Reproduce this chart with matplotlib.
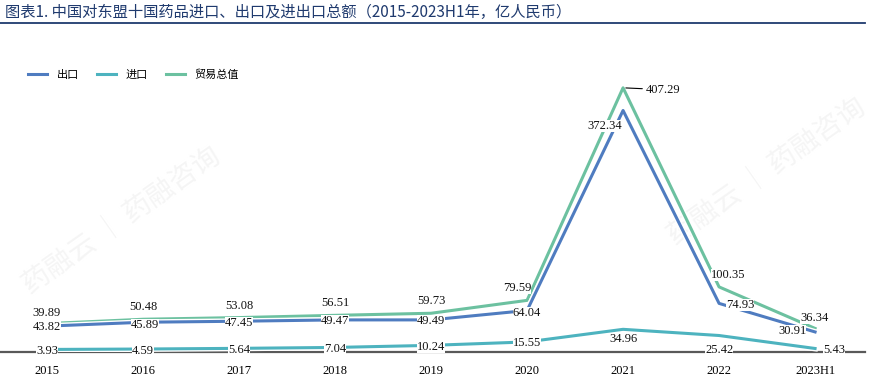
import matplotlib
matplotlib.use("Agg")
import matplotlib.pyplot as plt
import matplotlib.patheffects as pe

# data (亿人民币)
years = ["2015", "2016", "2017", "2018", "2019", "2020", "2021", "2022", "2023H1"]
exports = [39.89, 45.89, 47.45, 49.47, 49.49, 64.04, 372.34, 74.93, 30.91]
imports = [3.93, 4.59, 5.64, 7.04, 10.24, 15.55, 34.96, 25.42, 5.43]
totals = [43.82, 50.48, 53.08, 56.51, 59.73, 79.59, 407.29, 100.35, 36.34]

# label offsets in pixels (dx, dy) from each point
exp_off = [(-1, 15), (2, -1), (0, 0), (0, 0), (0, 0), (0, -1), (-18, -14), (21, 0), (-23, 2)]
tot_off = [(0, -2), (0, 14), (0, 13), (0, 14), (0, 14), (-10, 14), (40, -1), (9, 13), (-1, 12)]
imp_off = [(0, 0), (0, 0), (0, 0), (0, 0), (0, 0), (0, 0), (0, -8), (0, -13), (19, 0)]

BLUE = "#4f7cc0"
TEAL = "#4db3bf"
GREEN = "#6cc1a0"
NAVY = "#1f3a6e"
CJK = ["Noto Sans CJK SC", "DejaVu Sans"]
SERIF = "Liberation Serif"

fig = plt.figure(figsize=(8.71, 3.81), dpi=100)
W, H = 871, 381
ax = fig.add_axes([0, 1 - 352 / H, 865 / W, (352 - 40) / H])
ax.set_xlim(-0.49, 8.52)
ax.set_ylim(0, 481)

# faint watermarks, kept underneath everything
for (x, y) in [(0.14, 0.42), (0.88, 0.55)]:
    ax.text(x, y, "药融云 │ 药融咨询", fontsize=20, color="#f5f5f5", rotation=35,
            ha="center", va="center", family=CJK, zorder=0, transform=fig.transFigure)

xs = list(range(len(years)))
outline = [pe.Stroke(linewidth=4.2, foreground="white"), pe.Normal()]
ax.plot(xs, imports, color=TEAL, lw=2.2, label="进口", path_effects=outline, zorder=3)
ax.plot(xs, totals, color=GREEN, lw=2.2, label="贸易总值", path_effects=outline, zorder=3)
ax.plot(xs, exports, color=BLUE, lw=2.2, label="出口", path_effects=outline, zorder=4)


def labels(vals, offs):
    for i, (v, (dx, dy)) in enumerate(zip(vals, offs)):
        ax.annotate(f"{v:.2f}", xy=(i, v), xytext=(dx, dy), textcoords="offset pixels",
                    ha="center", va="center_baseline", fontsize=9, family=SERIF,
                    color="#111111",
                    bbox=dict(boxstyle="square,pad=0.0", fc="white", ec="none"), zorder=6)


labels(totals, tot_off)
labels(exports, exp_off)
labels(imports, imp_off)

# leader line for the 2021 total
ax.annotate("", xy=(6, totals[6]), xytext=(22, -1), textcoords="offset pixels",
            arrowprops=dict(arrowstyle="-", color="black", lw=0.8), zorder=5)

for s in ["top", "right", "left"]:
    ax.spines[s].set_visible(False)
ax.spines["bottom"].set_color("#595959")
ax.spines["bottom"].set_linewidth(1.6)
ax.spines["bottom"].set_zorder(2)
ax.set_yticks([])
ax.set_xticks(xs)
ax.set_xticklabels(years, family=SERIF, fontsize=9)
ax.tick_params(axis="x", length=0, pad=9)
ax.patch.set_alpha(0)

# legend
handles, labs = ax.get_legend_handles_labels()
order = [2, 0, 1]
fig.legend([handles[i] for i in order], [labs[i] for i in order],
           loc="center left", bbox_to_anchor=(18 / W, 1 - 75 / H), ncol=3,
           frameon=False, prop={"family": CJK, "size": 8},
           handlelength=1.7, handletextpad=0.9, columnspacing=1.6)

# title and rule
fig.text(5 / W, 1 - 12 / H, "图表1. 中国对东盟十国药品进口、出口及进出口总额（2015-2023H1年，亿人民币）",
         fontsize=11, color=NAVY, family=CJK, ha="left", va="center")
fig.add_artist(plt.Line2D([0, 865 / W], [1 - 22.5 / H, 1 - 22.5 / H], color=NAVY, lw=1.3))

fig.savefig("out.png", dpi=100, facecolor="white")
